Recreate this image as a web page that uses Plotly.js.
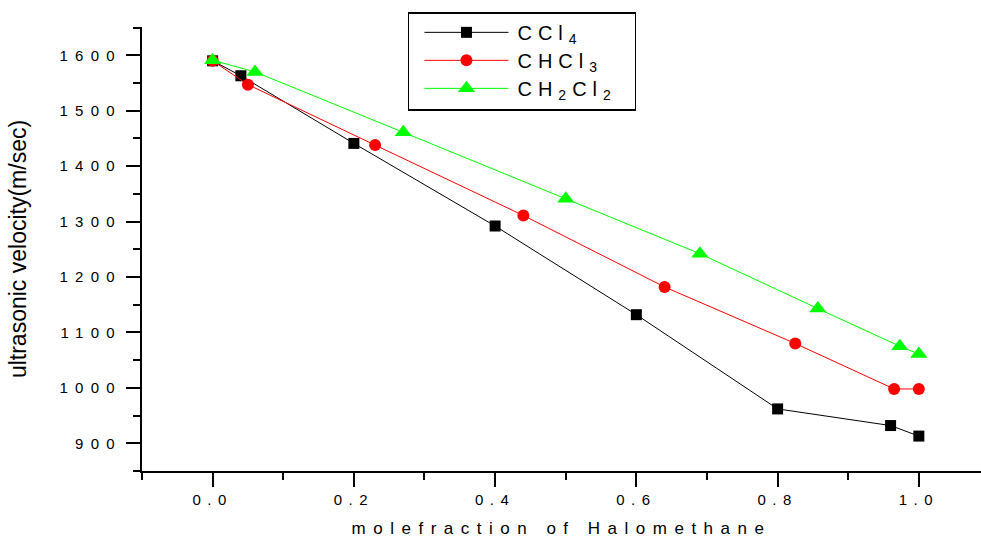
<!DOCTYPE html>
<html>
<head>
<meta charset="utf-8">
<script src="https://cdn.plot.ly/plotly-3.0.1.min.js"></script>
<style>
  html, body { margin: 0; padding: 0; background: #fff; }
  #chart { width: 981px; height: 538px; }
  .xtick text { letter-spacing: 6.5px; }
  .ytick text { letter-spacing: 7.3px; }
  .xtitle { letter-spacing: 7.5px; }
  .legendtext { letter-spacing: 6px; }
</style>
</head>
<body>
<div id="chart"></div>
<script>
// Data
const names = ["CCl<sub>4</sub>", "CHCl<sub>3</sub>", "CH<sub>2</sub>Cl<sub>2</sub>"];

const ccl4X   = [0, 0.04, 0.2, 0.4, 0.6, 0.8, 0.96, 1.0];
const ccl4Y   = [1590, 1563, 1441, 1292, 1132, 962, 932, 913];

const chcl3X  = [0, 0.05, 0.23, 0.44, 0.64, 0.825, 0.965, 1.0];
const chcl3Y  = [1590, 1547, 1438, 1311, 1182, 1080, 998, 998];

const ch2cl2X = [0, 0.06, 0.27, 0.5, 0.69, 0.857, 0.973, 1.0];
const ch2cl2Y = [1591, 1570, 1461, 1341, 1242, 1143, 1075, 1061];

const xTickVals = [0, 0.2, 0.4, 0.6, 0.8, 1.0];
const xTickText = ["0.0", "0.2", "0.4", "0.6", "0.8", "1.0"];
const yTickVals = [900, 1000, 1100, 1200, 1300, 1400, 1500, 1600];

const traces = [
  { x: ccl4X, y: ccl4Y, name: names[0], type: "scatter", mode: "lines+markers",
    line: { color: "#000000", width: 1 },
    marker: { symbol: "square", size: 11, color: "#000000" } },
  { x: chcl3X, y: chcl3Y, name: names[1], type: "scatter", mode: "lines+markers",
    line: { color: "#ff0000", width: 1 },
    marker: { symbol: "circle", size: 12, color: "#ff0000" } },
  { x: ch2cl2X, y: ch2cl2Y, name: names[2], type: "scatter", mode: "lines+markers",
    line: { color: "#00ff00", width: 1 },
    marker: { symbol: "triangle-up", size: 15, color: "#00ff00" } }
];

const axisFont = { family: "Liberation Sans, Arial, sans-serif", size: 15, color: "#000" };

const layout = {
  width: 981, height: 538,
  margin: { l: 142, r: 0, t: 27, b: 67 },
  paper_bgcolor: "#fff", plot_bgcolor: "#fff",
  showlegend: true,
  legend: {
    x: 0.317, y: 1.033, xanchor: "left", yanchor: "top",
    bordercolor: "#000", borderwidth: 1.5, bgcolor: "#fff",
    font: { family: "Liberation Sans, Arial, sans-serif", size: 20, color: "#000" }
  },
  xaxis: {
    range: [-0.1, 1.088],
    showgrid: false, zeroline: false,
    showline: true, linecolor: "#000", linewidth: 2,
    ticks: "outside", ticklen: 14, tickwidth: 2, tickcolor: "#000",
    tickvals: xTickVals, ticktext: xTickText,
    tickfont: axisFont,
    minor: { dtick: 0.1, tick0: 0, ticks: "outside", ticklen: 7, tickwidth: 2, tickcolor: "#000", showgrid: false },
    title: { text: "molefraction of Halomethane",
             font: { family: "Liberation Sans, Arial, sans-serif", size: 17, color: "#000" },
             standoff: 16 }
  },
  yaxis: {
    range: [850, 1651],
    showgrid: false, zeroline: false,
    showline: true, linecolor: "#000", linewidth: 2,
    ticks: "outside", ticklen: 14, tickwidth: 2, tickcolor: "#000",
    tickvals: yTickVals,
    tickfont: axisFont,
    ticklabelstandoff: 1,
    minor: { dtick: 50, tick0: 0, ticks: "outside", ticklen: 7, tickwidth: 2, tickcolor: "#000", showgrid: false },
    title: { text: "ultrasonic velocity(m/sec)",
             font: { family: "Liberation Sans, Arial, sans-serif", size: 23, color: "#000" },
             standoff: 26 }
  }
};

Plotly.newPlot("chart", traces, layout, { displayModeBar: false, staticPlot: true }).then(function (gd) {
  // Widen the legend samples to match the reference's long legend lines
  const leg = gd.querySelector(".legend");
  if (!leg) return;
  leg.querySelectorAll(".scrollbox").forEach(function (s) { s.removeAttribute("clip-path"); });
  const rowY = [20, 48, 76];
  leg.querySelectorAll("g.traces").forEach(function (g, i) {
    const m = /translate\(([-\d.]+)[ ,]+([-\d.]+)\)/.exec(g.getAttribute("transform") || "");
    const tx = m ? parseFloat(m[1]) : 2;
    g.setAttribute("transform", "translate(" + tx + "," + rowY[i] + ")");
  });
  leg.querySelectorAll(".legendlines path").forEach(function (p) { p.setAttribute("d", "M15,0h84"); });
  leg.querySelectorAll(".legendpoints path").forEach(function (p) { p.setAttribute("transform", "translate(57,0)"); });
  leg.querySelectorAll("text.legendtext").forEach(function (t) { t.setAttribute("x", "108"); });
  const bg = leg.querySelector("rect.bg");
  if (bg) { bg.setAttribute("width", "227"); bg.setAttribute("height", "97"); }
});
</script>
</body>
</html>
